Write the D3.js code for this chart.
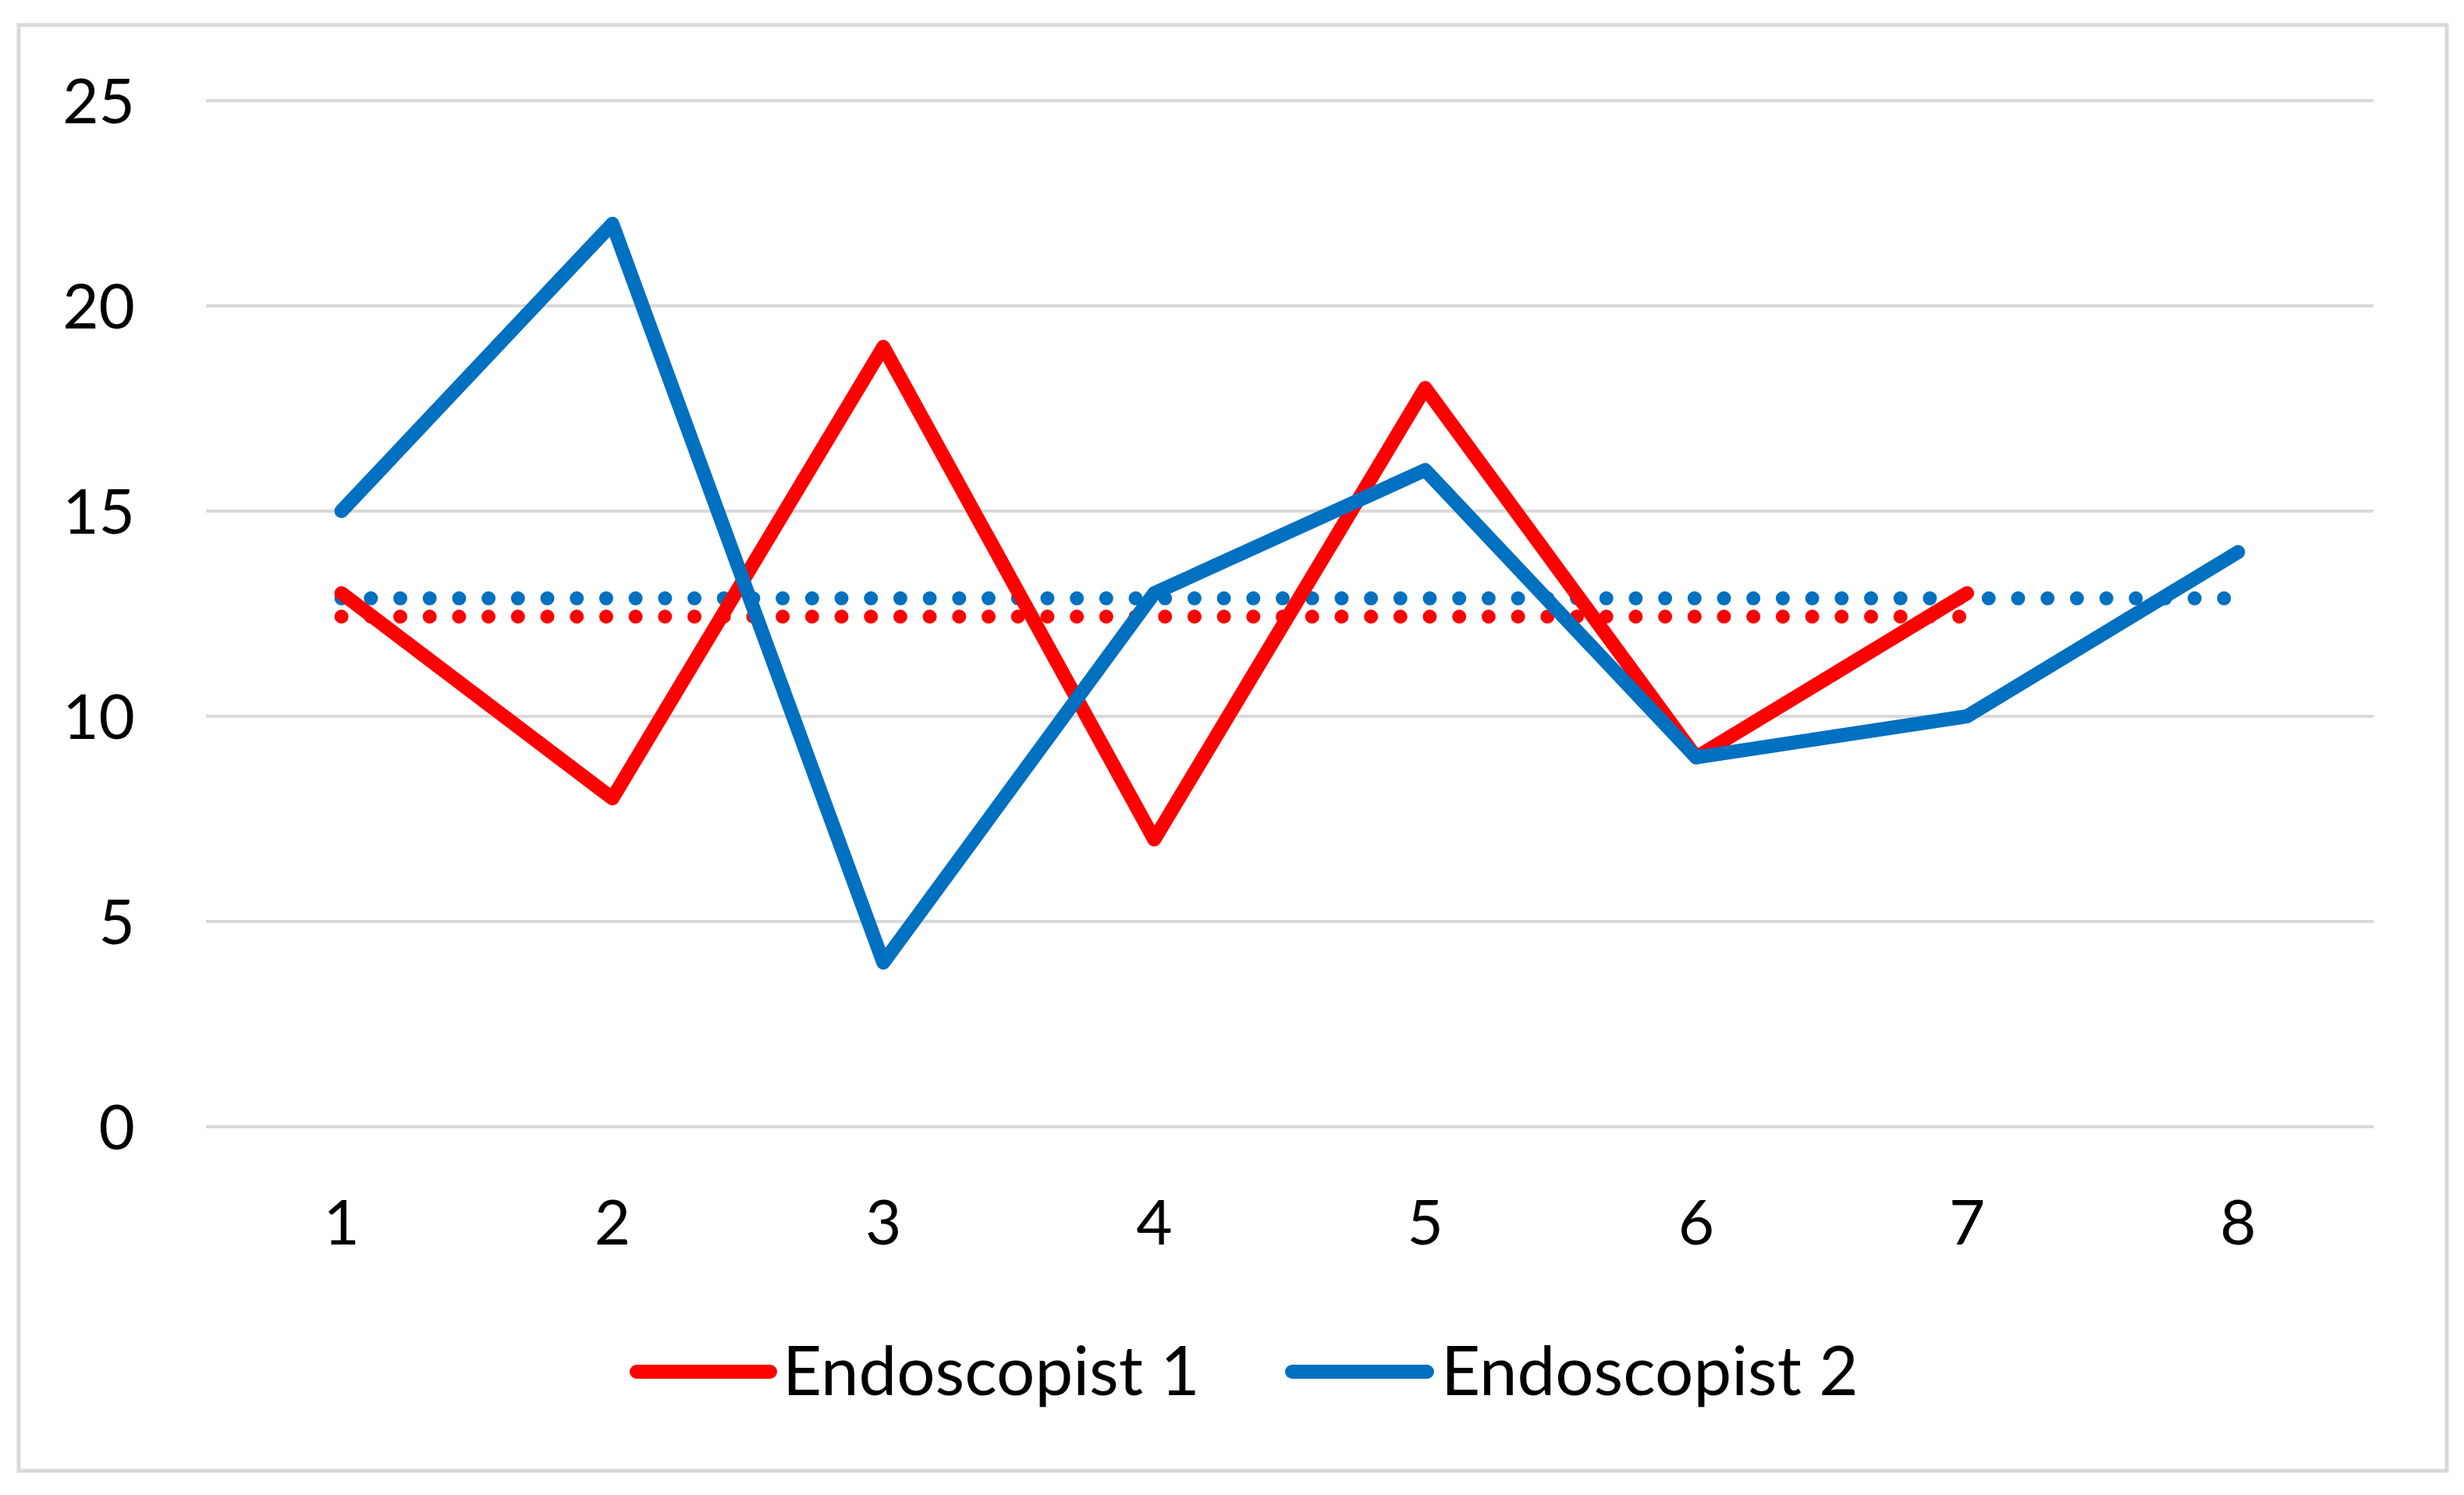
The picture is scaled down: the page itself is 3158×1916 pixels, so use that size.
<!DOCTYPE html>
<html><head><meta charset="utf-8">
<script src="https://cdn.jsdelivr.net/npm/d3@7"></script>
<style>html,body{margin:0;padding:0;background:#fff;}svg{display:block;}</style>
</head><body>
<script>
const categories = [1, 2, 3, 4, 5, 6, 7, 8];
const endoscopist1 = [13, 8, 19, 7, 18, 9, 13];
const endoscopist2 = [15, 22, 4, 13, 16, 9, 10, 14];
const yTicks = [0, 5, 10, 15, 20, 25];
const seriesNames = ["Endoscopist 1", "Endoscopist 2"];
const seriesColors = ["#ff0000", "#0070c0"];

const W = 3158, H = 1916;
const svg = d3.select("body").append("svg").attr("width", W).attr("height", H);
const font = "Lato, 'Open Sans', sans-serif";

svg.append("rect").attr("x", 24).attr("y", 32).attr("width", 3112).attr("height", 1853)
  .attr("fill", "#fff").attr("stroke", "#d9d9d9").attr("stroke-width", 5);

const x = d3.scaleBand().domain(categories).range([264, 3042]);
const y = d3.scaleLinear().domain([0, 25]).range([1444, 129]);
const cx = d => x(d) + x.bandwidth() / 2;

// gridlines
svg.append("g").selectAll("line").data(yTicks).join("line")
  .attr("x1", 264).attr("x2", 3042)
  .attr("y1", d => y(d)).attr("y2", d => y(d))
  .attr("stroke", "#d9d9d9").attr("stroke-width", 4);

// y axis labels
const yAxis = d3.axisLeft(y).tickValues(yTicks).tickSize(0).tickPadding(0);
const gy = svg.append("g").attr("transform", "translate(173,0)").call(yAxis);
gy.select(".domain").remove();
gy.selectAll("text").attr("font-family", font).attr("font-size", 80).attr("fill", "#000").attr("dy", "0.35em");

// x axis labels
const xAxis = d3.axisBottom(x).tickSize(0).tickPadding(0);
const gx = svg.append("g").attr("transform", "translate(0,1567)").call(xAxis);
gx.select(".domain").remove();
gx.selectAll("text").attr("font-family", font).attr("font-size", 80).attr("fill", "#000").attr("dy", "0.35em");

const series = [endoscopist1, endoscopist2];
const line = d3.line().x((d, i) => cx(categories[i])).y(d => y(d));

// average dotted lines
series.forEach((s, k) => {
  const m = d3.mean(s);
  svg.append("line")
    .attr("x1", cx(categories[0])).attr("x2", cx(categories[s.length - 1]))
    .attr("y1", y(m)).attr("y2", y(m))
    .attr("stroke", seriesColors[k]).attr("stroke-width", 18)
    .attr("stroke-linecap", "round").attr("stroke-dasharray", "0 37.7");
});

// series lines
series.forEach((s, k) => {
  svg.append("path").attr("d", line(s)).attr("fill", "none")
    .attr("stroke", seriesColors[k]).attr("stroke-width", 18)
    .attr("stroke-linejoin", "round").attr("stroke-linecap", "round");
});

// legend
const legendItems = [
  {x1: 816, x2: 987, tx: 1003},
  {x1: 1656, x2: 1829, tx: 1847}
];
const lg = svg.append("g");
seriesNames.forEach((name, k) => {
  const it = legendItems[k];
  lg.append("line").attr("x1", it.x1).attr("x2", it.x2).attr("y1", 1758).attr("y2", 1758)
    .attr("stroke", seriesColors[k]).attr("stroke-width", 18).attr("stroke-linecap", "round");
  lg.append("text").attr("x", it.tx).attr("y", 1758).attr("dy", "0.35em")
    .attr("font-family", font).attr("font-size", 87).attr("fill", "#000").text(name);
});
</script>
</body></html>
